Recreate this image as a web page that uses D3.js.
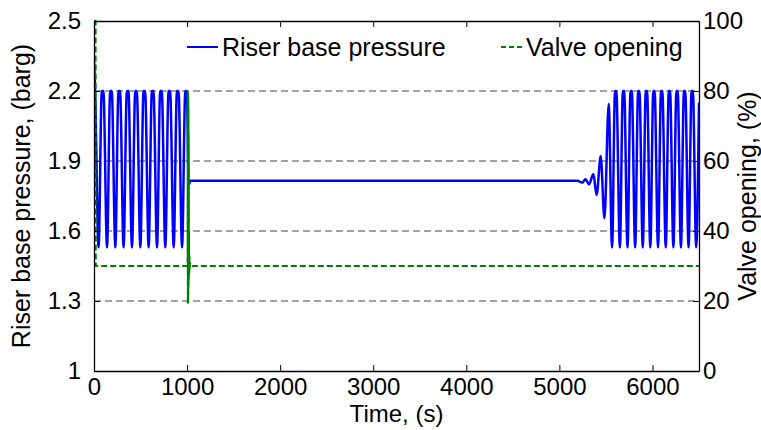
<!DOCTYPE html>
<html>
<head>
<meta charset="utf-8">
<script src="https://cdn.jsdelivr.net/npm/d3@7/dist/d3.min.js"></script>
<style>
  html, body { margin: 0; padding: 0; background: #fff; }
  svg text { font-family: Arial, "Liberation Sans", sans-serif; fill: #000; }
</style>
</head>
<body>
<svg id="chart" width="761" height="430"></svg>
<script>
// Riser base pressure (barg) over time (s): slugging, controller on, then slugging again
const pressureTime = [
  0, 12, 49, 84, 101, 140, 174, 191, 229, 263, 280, 318, 353, 370, 408, 443, 460, 498,
  532, 549, 587, 622, 639, 677, 711, 728, 766, 801, 818, 856, 891, 908, 946, 981, 998,
  1008, 1014, 1022, 1035, 5194, 5247, 5280, 5319, 5365, 5400, 5444, 5484, 5530,
  5566, 5598, 5612, 5650, 5682, 5696, 5732, 5764, 5778, 5814, 5846, 5860, 5896, 5928,
  5942, 5977, 6009, 6023, 6060, 6092, 6106, 6143, 6175, 6189, 6225, 6257, 6271, 6306,
  6338, 6352, 6388, 6420, 6434, 6470, 6500
];
const pressureValue = [
  2.33, 2.2, 1.53, 2.2, 2.2, 1.53, 2.2, 2.2, 1.53, 2.2, 2.2, 1.53, 2.2, 2.2, 1.53, 2.2, 2.2, 1.53,
  2.2, 2.2, 1.53, 2.2, 2.2, 1.53, 2.2, 2.2, 1.53, 2.2, 2.2, 1.53, 2.2, 2.2, 1.53, 2.2, 2.2,
  2.0, 1.83, 1.80, 1.815, 1.815, 1.807, 1.822, 1.80, 1.844, 1.754, 1.921, 1.654, 2.144,
  1.53, 2.2, 2.2, 1.53, 2.2, 2.2, 1.53, 2.2, 2.2, 1.53, 2.2, 2.2, 1.53, 2.2,
  2.2, 1.53, 2.2, 2.2, 1.53, 2.2, 2.2, 1.53, 2.2, 2.2, 1.53, 2.2, 2.2, 1.53,
  2.2, 2.2, 1.53, 2.2, 2.2, 1.53, 2.15
];

// Valve opening (%) over time (s): fully open at start, 30 % while slugging,
// brief controller action around t = 1000 s, then 30 % to the end
const valveTime = [0, 16, 18, 1007, 1008, 1009, 1010, 1011, 1012, 1013, 1014, 1015, 1016,
  1017, 1018, 1019, 1020, 1022, 1024, 1027, 1031, 1036, 6500];
const valveValue = [100, 100, 30, 30, 80, 19, 79, 20, 78, 22, 75, 24, 68, 26, 55, 27, 40,
  28, 33, 29, 31, 30, 30];

// Axis ticks
const timeTicks = [0, 1000, 2000, 3000, 4000, 5000, 6000];
const pressureTicks = [1, 1.3, 1.6, 1.9, 2.2, 2.5];
const pressureTickLabels = ["1", "1.3", "1.6", "1.9", "2.2", "2.5"];
const valveTicks = [0, 20, 40, 60, 80, 100];

const seriesNames = ["Riser base pressure", "Valve opening"];

const svg = d3.select("#chart");
const plot = { left: 94, right: 699, top: 21, bottom: 371 };

const x = d3.scaleLinear().domain([0, 6500]).range([plot.left, plot.right]);
const yP = d3.scaleLinear().domain([1, 2.5]).range([plot.bottom, plot.top]);
const yV = d3.scaleLinear().domain([0, 100]).range([plot.bottom, plot.top]);

svg.append("defs").append("clipPath").attr("id", "plotClip")
  .append("rect")
  .attr("x", plot.left).attr("y", plot.top - 2)
  .attr("width", plot.right - plot.left).attr("height", plot.bottom - plot.top + 4);

// horizontal dashed grid at the pressure ticks
svg.append("g").selectAll("line")
  .data(pressureTicks.slice(1, -1))
  .join("line")
  .attr("x1", plot.left).attr("x2", plot.right)
  .attr("y1", d => yP(d)).attr("y2", d => yP(d))
  .attr("stroke", "#444").attr("stroke-width", 1)
  .attr("stroke-dasharray", "7,4");

const pressureData = pressureTime.map((t, i) => [t, pressureValue[i]]);
const valveData = valveTime.map((t, i) => [t, valveValue[i]]);

const data = svg.append("g").attr("clip-path", "url(#plotClip)");

data.append("path")
  .datum(pressureData)
  .attr("fill", "none")
  .attr("stroke", "#0000ff")
  .attr("stroke-width", 2.5)
  .attr("stroke-linejoin", "round")
  .attr("d", d3.line().x(d => x(d[0])).y(d => yP(d[1])).curve(d3.curveMonotoneX));

data.append("path")
  .datum(valveData)
  .attr("fill", "none")
  .attr("stroke", "#008000")
  .attr("stroke-width", 2.2)
  .attr("stroke-dasharray", "6,3")
  .attr("d", d3.line().x(d => x(d[0])).y(d => yV(d[1])));

// axes
const tickLen = 6;
const fontTick = 24;

const xBottom = d3.axisBottom(x).tickValues(timeTicks).tickSizeInner(-tickLen).tickSizeOuter(0)
  .tickPadding(7).tickFormat(d3.format("d"));
const gxb = svg.append("g").attr("transform", `translate(0,${plot.bottom})`).call(xBottom);

const xTop = d3.axisTop(x).tickValues(timeTicks).tickSizeInner(-tickLen).tickSizeOuter(0).tickFormat("");
const gxt = svg.append("g").attr("transform", `translate(0,${plot.top})`).call(xTop);

const yLeft = d3.axisLeft(yP).tickValues(pressureTicks).tickSizeInner(-tickLen).tickSizeOuter(0)
  .tickPadding(13).tickFormat((d, i) => pressureTickLabels[i]);
const gyl = svg.append("g").attr("transform", `translate(${plot.left},0)`).call(yLeft);

const yRight = d3.axisRight(yV).tickValues(valveTicks).tickSizeInner(-tickLen).tickSizeOuter(0)
  .tickPadding(4).tickFormat(d3.format("d"));
const gyr = svg.append("g").attr("transform", `translate(${plot.right},0)`).call(yRight);

[gxb, gxt, gyl, gyr].forEach(g => {
  g.select(".domain").attr("stroke", "#000").attr("stroke-width", 1.3);
  g.selectAll(".tick line").attr("stroke", "#000").attr("stroke-width", 1);
  g.selectAll("text").attr("font-size", fontTick)
    .attr("font-family", "Arial, 'Liberation Sans', sans-serif").attr("fill", "#000");
});

// axis titles
svg.append("text")
  .attr("x", (plot.left + plot.right) / 2).attr("y", 422)
  .attr("text-anchor", "middle").attr("font-size", 24)
  .text("Time, (s)");

svg.append("text")
  .attr("transform", `translate(30,${(plot.top + plot.bottom) / 2}) rotate(-90)`)
  .attr("text-anchor", "middle").attr("font-size", 25)
  .text("Riser base pressure, (barg)");

svg.append("text")
  .attr("transform", `translate(756,${(plot.top + plot.bottom) / 2}) rotate(-90)`)
  .attr("text-anchor", "middle").attr("font-size", 25)
  .text("Valve opening, (%)");

// legend
const legend = svg.append("g");
legend.append("line")
  .attr("x1", 187).attr("x2", 218).attr("y1", 47).attr("y2", 47)
  .attr("stroke", "#0000ff").attr("stroke-width", 2);
legend.append("text").attr("x", 222).attr("y", 56).attr("font-size", 25).text(seriesNames[0]);
legend.append("line")
  .attr("x1", 501).attr("x2", 523).attr("y1", 47).attr("y2", 47)
  .attr("stroke", "#008000").attr("stroke-width", 2).attr("stroke-dasharray", "5,3");
legend.append("text").attr("x", 526).attr("y", 56).attr("font-size", 25).text(seriesNames[1]);
</script>
</body>
</html>
